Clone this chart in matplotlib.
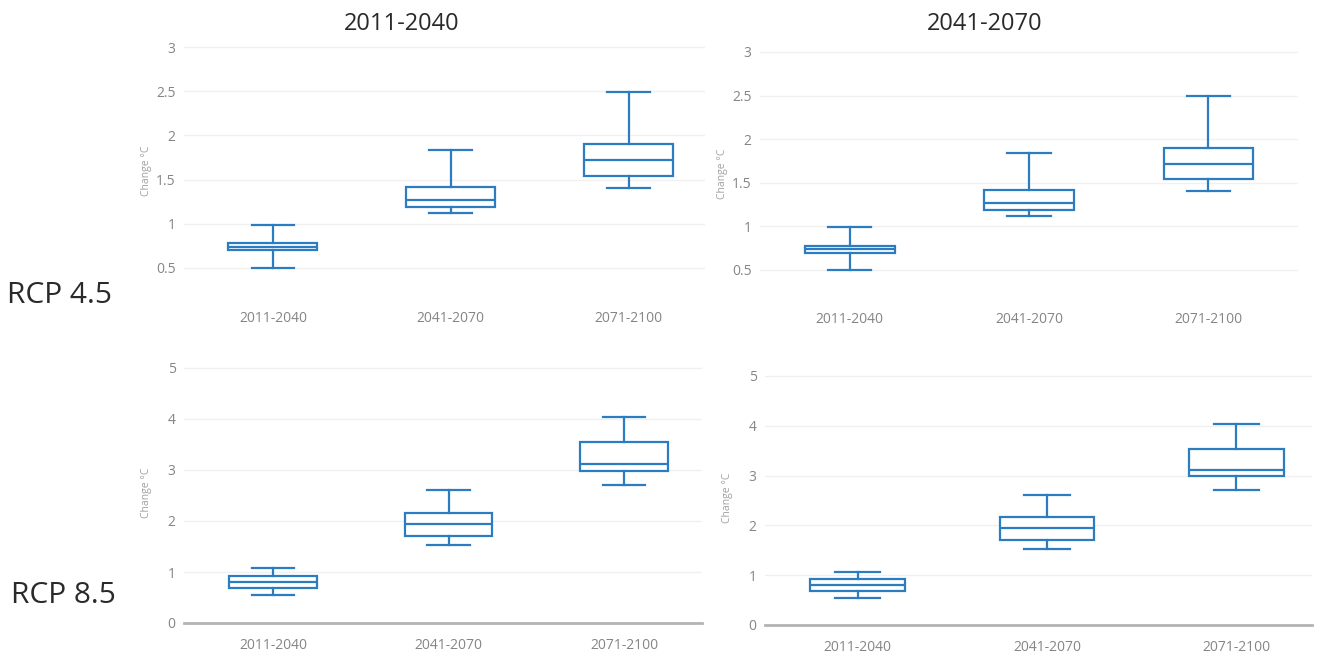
import matplotlib
matplotlib.use("Agg")
import matplotlib.pyplot as plt
from matplotlib.ticker import FuncFormatter

# Projection periods on the x axis of every panel
periods = ["2011-2040", "2041-2070", "2071-2100"]
column_titles = ["2011-2040", "2041-2070"]
row_labels = ["RCP 4.5", "RCP 8.5"]

# RCP 4.5 temperature change (°C): whisker ends, quartiles, median
rcp45_low = [0.50, 1.12, 1.40]
rcp45_q1 = [0.70, 1.19, 1.54]
rcp45_med = [0.74, 1.27, 1.72]
rcp45_q3 = [0.78, 1.42, 1.90]
rcp45_high = [0.99, 1.84, 2.49]

# RCP 8.5 temperature change (°C)
rcp85_low = [0.54, 1.53, 2.71]
rcp85_q1 = [0.69, 1.70, 2.99]
rcp85_med = [0.81, 1.95, 3.11]
rcp85_q3 = [0.92, 2.16, 3.54]
rcp85_high = [1.07, 2.61, 4.03]

rcp45_ticks = [0.5, 1, 1.5, 2, 2.5, 3]
rcp85_ticks = [0, 1, 2, 3, 4, 5]

BLUE = "#2c7cc1"
GRID = "#f0f0f0"
TICK = "#858585"
W, H = 1317, 657

plt.rcParams["font.family"] = ["Open Sans", "DejaVu Sans"]

fig = plt.figure(figsize=(W / 100, H / 100), dpi=100)
fig.patch.set_facecolor("white")


def make_stats(low, q1, med, q3, high):
    return [dict(label=p, whislo=a, q1=b, med=c, q3=d, whishi=e, fliers=[])
            for p, a, b, c, d, e in zip(periods, low, q1, med, q3, high)]


def draw_panel(rect_px, stats, ticks, xlim, ylim, show_base, xpad):
    x0, x1, y_top, y_bot = rect_px
    ax = fig.add_axes([x0 / W, 1 - y_bot / H, (x1 - x0) / W, (y_bot - y_top) / H])
    pos = list(range(len(stats)))
    lw = 1.6
    ax.bxp(stats, positions=pos, widths=0.5, capwidths=0.24,
           patch_artist=True, showfliers=False,
           boxprops=dict(facecolor="white", edgecolor=BLUE, linewidth=lw),
           medianprops=dict(color=BLUE, linewidth=lw),
           whiskerprops=dict(color=BLUE, linewidth=lw),
           capprops=dict(color=BLUE, linewidth=lw))
    ax.set_xlim(*xlim)
    ax.set_ylim(*ylim)
    ax.set_yticks(ticks)
    ax.yaxis.set_major_formatter(FuncFormatter(lambda v, _: f"{v:g}"))
    ax.set_xticks(pos)
    ax.set_xticklabels(periods)
    ax.grid(axis="y", color=GRID, linewidth=1.0)
    ax.set_axisbelow(True)
    for s in ("top", "right", "left"):
        ax.spines[s].set_visible(False)
    if show_base:
        ax.spines["bottom"].set_color("#b4b4b4")
        ax.spines["bottom"].set_linewidth(2.0)
    else:
        ax.spines["bottom"].set_visible(False)
    ax.tick_params(axis="both", length=0, labelsize=10, labelcolor=TICK)
    ax.tick_params(axis="y", pad=6)
    ax.tick_params(axis="x", pad=xpad)
    ax.set_ylabel("Change °C", fontsize=7.5, color="#a0a0a0")
    ax.yaxis.set_label_coords(-32 / (x1 - x0), 0.5)
    return ax


rcp45 = make_stats(rcp45_low, rcp45_q1, rcp45_med, rcp45_q3, rcp45_high)
rcp85 = make_stats(rcp85_low, rcp85_q1, rcp85_med, rcp85_q3, rcp85_high)

# panel extents in pixels: left, right, top, bottom
draw_panel((184, 705, 42.6, 298.9), rcp45, rcp45_ticks, (-0.5, 2.43), (0.15, 3.05), False, 8.5)
draw_panel((760, 1298, 47.6, 300.5), rcp45, rcp45_ticks, (-0.5, 2.5), (0.15, 3.05), False, 8.5)
draw_panel((184, 702, 362.9, 623.0), rcp85, rcp85_ticks, (-0.506, 2.443), (0, 5.1), True, 10.5)
draw_panel((765, 1312, 371.0, 625.0), rcp85, rcp85_ticks, (-0.49, 2.40), (0, 5.1), True, 10.5)

# Column headings
fig.text(402 / W, 1 - 24 / H, column_titles[0], ha="center", va="center",
         fontsize=17, color="#2a2a2a")
fig.text(985 / W, 1 - 24 / H, column_titles[1], ha="center", va="center",
         fontsize=17, color="#2a2a2a")

# Scenario labels on the left
fig.text(7 / W, 1 - 303 / H, row_labels[0], ha="left", va="baseline",
         fontsize=21.5, color="#2a2a2a")
fig.text(11 / W, 1 - 603 / H, row_labels[1], ha="left", va="baseline",
         fontsize=21.5, color="#2a2a2a")

fig.savefig("out.png", dpi=100, facecolor="white")
